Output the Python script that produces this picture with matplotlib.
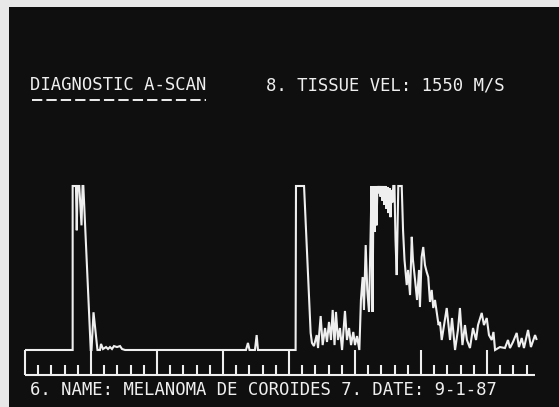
import matplotlib
matplotlib.use("Agg")
import matplotlib.pyplot as plt
from matplotlib.lines import Line2D

W, H, DPI = 559, 407, 100

# A-scan echo trace: depth in graticule divisions, amplitude in % of full screen
depth = [
    0.00, 3.61, 3.61, 3.86, 3.92, 3.98, 4.11, 4.28, 4.36, 4.42, 4.98,
    5.04, 5.19, 5.49, 5.68, 5.76, 5.91, 6.14, 6.29, 6.44, 6.59, 6.74, 6.97, 7.20, 7.35, 7.58,
    16.74, 16.89, 17.01, 17.42, 17.55, 17.65,
    20.50, 20.53, 21.14, 21.64,
    21.74, 21.89, 22.10, 22.20, 22.40, 22.55, 22.73, 22.88, 23.03, 23.18, 23.31, 23.45,
    23.56, 23.71, 23.86, 24.02, 24.24, 24.39, 24.55, 24.70, 24.87, 25.00, 25.15, 25.33,
    25.45, 25.58, 25.68, 25.81, 25.93, 26.06, 26.19,
    26.25, 26.33, 26.40, 26.48, 26.55, 26.63, 26.70, 26.78, 26.86, 26.93, 27.01, 27.08,
    27.16, 27.23, 27.31, 27.39, 27.46, 27.54, 27.61, 27.69, 27.77, 27.84, 27.90, 27.99,
    28.07, 28.16, 28.22, 28.28, 28.54, 28.64, 28.75, 28.92, 29.02, 29.17, 29.30, 29.39,
    29.55, 29.70, 29.85, 29.92, 30.05, 30.17, 30.30, 30.43, 30.55, 30.68, 30.81, 30.93,
    31.06, 31.19, 31.33, 31.44, 31.57,
    31.95, 32.20, 32.35, 32.58, 32.80, 32.95, 33.14, 33.33, 33.48, 33.71, 33.94, 34.17,
    34.32, 34.60, 34.77, 34.98, 35.15, 35.36, 35.49, 35.61, 35.98, 36.36, 36.59, 36.74,
    36.97, 37.25, 37.42, 37.63, 37.80, 38.11, 38.33, 38.64, 38.77,
]
amplitude = [
    0, 0, 100, 100, 73, 100, 100, 76, 100, 100, 0,
    0, 23, 0, 0, 3.7, 0.6, 1.8, 0.6, 1.8, 0.6, 2.4, 1.8, 2.4, 0.6, 0,
    0, 4.3, 0, 0, 9.1, 0,
    0, 100, 100, 10.4,
    4.3, 2.4, 9.1, 1.2, 20.7, 3.0, 13.4, 4.9, 17.1, 6.1, 24.4, 3.0,
    23.2, 6.1, 13.4, 0, 23.8, 6.1, 13.4, 3.0, 11.0, 3.0, 8.5, 0,
    30.5, 44.5, 24.4, 64.0, 36.6, 23.2, 73.2,
    100, 23.2, 100, 72, 100, 76, 100, 95.5, 100, 93.5, 100, 91.0,
    100, 88.5, 100, 86.0, 99.4, 83.5, 98.8, 81.0, 97.6, 90.0, 100, 100,
    67, 45.7, 73, 100, 100, 73, 55, 39.6, 48.8, 33.5, 69, 55,
    42.7, 30.5, 48.8, 26.2, 56.7, 62.8, 51.8, 47.6, 44.5, 29.3, 36.6, 25.6,
    30.5, 23.2, 15.2, 17.1, 6.1,
    25.6, 6.1, 19.5, 0, 12.2, 25.6, 3.0, 15.2, 6.1, 1.2, 13.4, 6.1,
    15.2, 22.6, 15.2, 19.5, 9.1, 6.1, 11.0, 0, 1.8, 1.2, 6.1, 1.2,
    4.9, 10.4, 1.8, 7.3, 1.2, 12.2, 1.8, 9.1, 6.1,
]

# Depth graticule below the trace
scale_end = 38.64
scale_floor = -15.2
minor_top = -9.1
major_ticks = [5, 10, 15, 20, 25, 30, 35]
minor_ticks = [i for i in range(1, 39) if i % 5]

header_left = "DIAGNOSTIC A-SCAN"
header_right = "8. TISSUE VEL: 1550 M/S"
footer = "6. NAME: MELANOMA DE COROIDES 7. DATE: 9-1-87"

INK = "#efefef"
SCREEN = "#0f0f0f"

fig = plt.figure(figsize=(W / DPI, H / DPI), dpi=DPI, facecolor="#e8e8e8")
ax = fig.add_axes([9 / W, 0, (W - 9) / W, (H - 7) / H])
ax.set_facecolor(SCREEN)
ax.set_xlim(-1.212, 40.455)
ax.set_ylim(-34.76, 209.15)
ax.axis("off")
ax.add_patch(plt.Rectangle((0, 0), 1, 1, transform=ax.transAxes,
                           facecolor=SCREEN, edgecolor="none", zorder=0))

lw = 1.5
ax.plot(depth, amplitude, color=INK, lw=lw, solid_joinstyle="miter",
        solid_capstyle="butt", zorder=3)
ax.hlines(scale_floor, 0, scale_end, color=INK, lw=lw, zorder=3)
ax.vlines([0], scale_floor, 0, color=INK, lw=lw, zorder=3)
ax.vlines(major_ticks, scale_floor, 0, color=INK, lw=lw, zorder=3)
ax.vlines(minor_ticks, scale_floor, minor_top, color=INK, lw=lw, zorder=3)

font = dict(family="DejaVu Sans Mono", size=12.4, color=INK, va="baseline", ha="left")


def place(x_px, y_px, s):
    fig.text(x_px / W, 1 - y_px / H, s, **font)


place(30, 90, header_left)
place(266, 90, header_right)
place(30, 395, footer)

# dashed underline beneath the title
rule = Line2D([31.5 / W, 206 / W], [1 - 99.5 / H, 1 - 99.5 / H],
              transform=fig.transFigure, color=INK, lw=1.4,
              dashes=(5.3, 2.1), dash_capstyle="butt")
fig.add_artist(rule)

fig.savefig("out.png", dpi=DPI, facecolor=fig.get_facecolor())
